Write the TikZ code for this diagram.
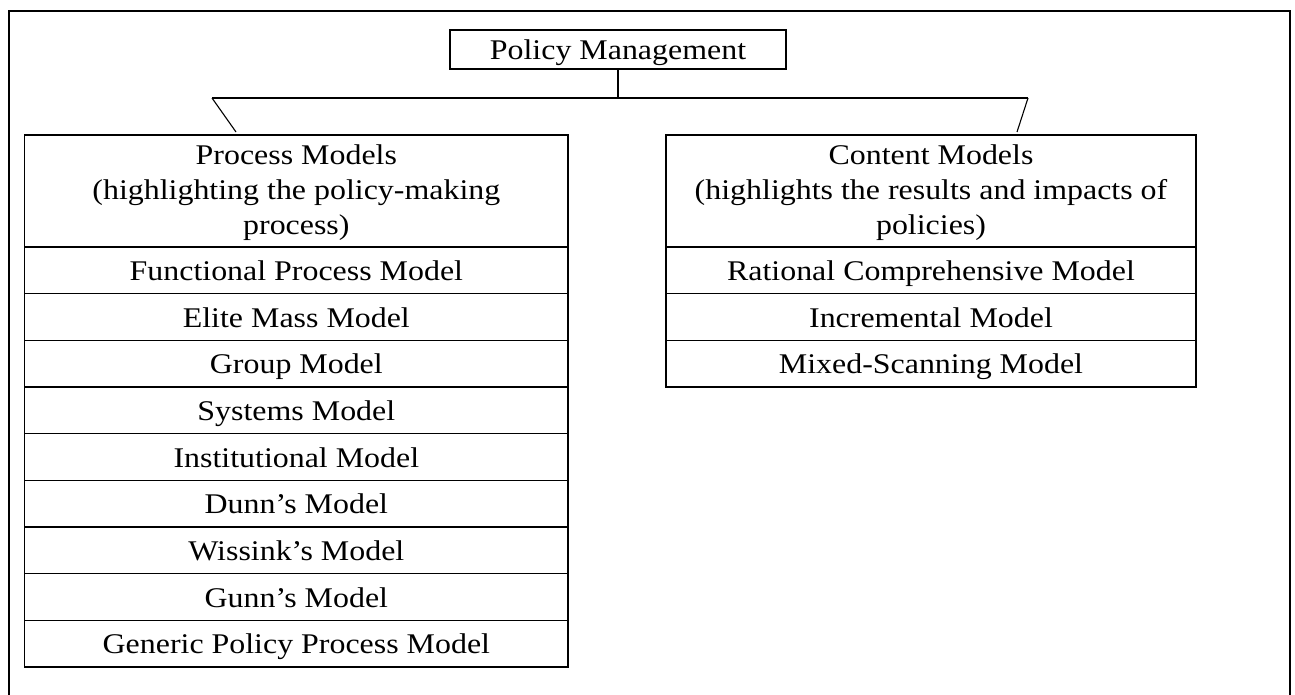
\documentclass[tikz,border=0pt]{standalone}
\usepackage{fontspec}
\setmainfont[FakeStretch=1.12]{Liberation Serif}
\begin{document}
\begin{tikzpicture}[x=1pt,y=-1pt,
  txt/.style={font=\fontsize{28.5}{35}\selectfont},
  box/.style={draw,line width=1.1pt,inner sep=0pt,outer sep=0pt,txt,align=center},
  one/.style={text height=20pt,text depth=0pt},
  lrow/.style={box,one,minimum width=543.3pt,minimum height=46.67pt,anchor=north},
  rrow/.style={box,one,minimum width=530pt,minimum height=46.67pt,anchor=north},
  conn/.style={line width=1.1pt}]
\useasboundingbox (0,0) rectangle (1295,695);
\draw[line width=2.2pt] (9,11) rectangle (1290,720);
\node[box,one,minimum width=336pt,minimum height=39pt] (top) at (618,49.5) {Policy Management};
% left column
\node[box,minimum width=543.3pt,minimum height=112pt,anchor=north] (lh) at (296.35,135)
  {\rule{0pt}{24pt}Process Models\\(highlighting the policy-making\\process)};
\node[lrow] (l1) at (lh.south) {Functional Process Model};
\node[lrow] (l2) at (l1.south) {Elite Mass Model};
\node[lrow] (l3) at (l2.south) {Group Model};
\node[lrow] (l4) at (l3.south) {Systems Model};
\node[lrow] (l5) at (l4.south) {Institutional Model};
\node[lrow] (l6) at (l5.south) {Dunn’s Model};
\node[lrow] (l7) at (l6.south) {Wissink’s Model};
\node[lrow] (l8) at (l7.south) {Gunn’s Model};
\node[lrow] (l9) at (l8.south) {Generic Policy Process Model};
% right column
\node[box,minimum width=530pt,minimum height=112pt,anchor=north] (rh) at (931,135)
  {\rule{0pt}{24pt}Content Models\\(highlights the results and impacts of\\policies)};
\node[rrow] (r1) at (rh.south) {Rational Comprehensive Model};
\node[rrow] (r2) at (r1.south) {Incremental Model};
\node[rrow] (r3) at (r2.south) {Mixed-Scanning Model};
% connectors
\coordinate (hl) at (212,98);
\coordinate (hr) at (1028,98);
\coordinate (hm) at (top.south |- hl);
\coordinate (dl) at (236,132);
\coordinate (dr) at (1017,132);
\draw[conn] (top.south) -- (hm);
\draw[conn] (hl) -- (hr);
\draw[conn] (hl) -- (dl);
\draw[conn] (hr) -- (dr);
\end{tikzpicture}
\end{document}
